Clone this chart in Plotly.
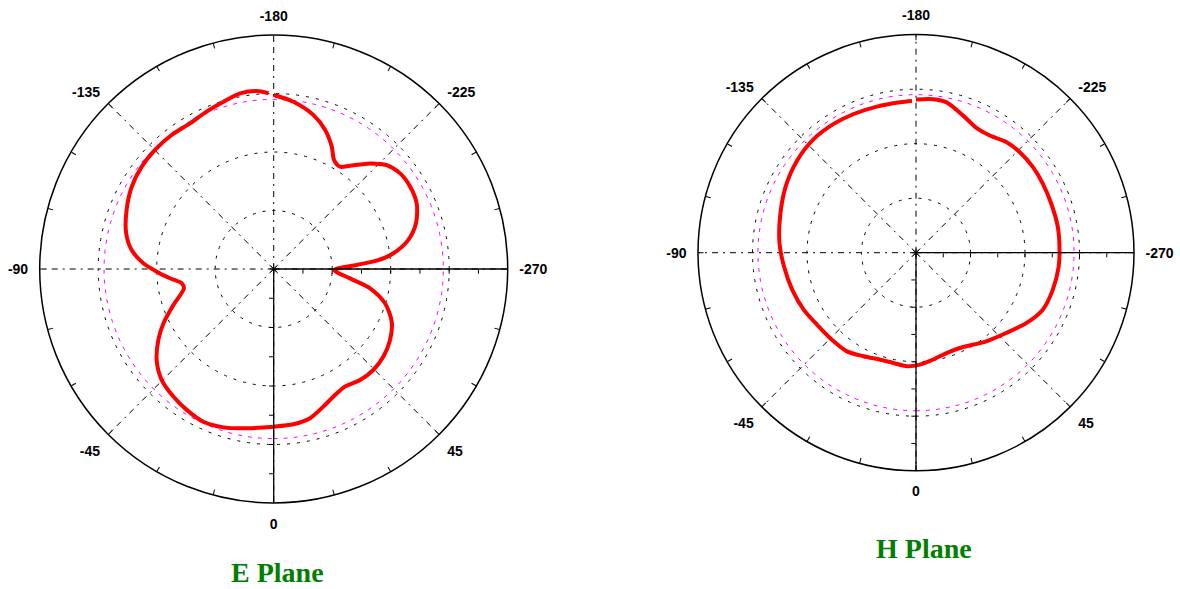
import plotly.graph_objects as go

# ---------------- data (radial units: outer ring = 8) ----------------
E_ANGLE = [180, 173.3, 165.6, 159.7, 154.6, 151.0, 147.0, 143.6, 137.6, 132.6,
           127.1, 121.1, 114.7, 107.8, 102.2, 97.5, 94.6, 92.8, 89.0, 83.0,
           78.7, 72.9, 65.95, 58.6, 51.4, 44.6, 37.9, 31.2, 25.95, 19.8,
           13.7, 7.2, 0, -9.6, -17.6, -24.7, -31.7, -38.2, -45.3, -52.1,
           -58.4, -63.8, -70.3, -77.8, -81.1, -84.9, -88.7, -92.5, -97.6, -103.6,
           -111.9, -120.1, -127.8, -135.1, -142.7, -150.1, -156.9, -163.3, -169.2, -174.5,
           -178.3]
E_GAIN = [5.95, 5.76, 5.44, 5.07, 4.63, 4.26, 4.17, 4.39, 4.89, 5.25,
          5.42, 5.45, 5.38, 5.11, 4.71, 4.13, 3.53, 2.84, 2.07, 2.63,
          3.36, 3.98, 4.42, 4.66, 4.80, 4.85, 4.81, 4.70, 4.79, 5.00,
          5.25, 5.35, 5.39, 5.52, 5.68, 5.75, 5.66, 5.55, 5.39, 5.07,
          4.63, 4.20, 3.64, 3.14, 3.18, 3.56, 4.00, 4.46, 4.90, 5.19,
          5.42, 5.61, 5.71, 5.75, 5.76, 5.74, 5.85, 5.97, 6.11, 6.11,
          6.01]

H_ANGLE = [180, 173.6, 168.5, 161.0, 154.2, 147.8, 140.8, 134.2, 126.2, 118.6,
           110.0, 100.4, 92.4, 84.4, 74.8, 65.8, 57.4, 48.3, 38.4, 24.7,
           16.9, 9.2, 2.0, -4.7, -11.6, -18.5, -26.9, -35.0, -42.9, -53.9,
           -63.0, -73.3, -84.0, -93.9, -104.8, -116.7, -127.8, -138.1, -147.4, -155.8,
           -165.0, -174.0, -178.5]
H_GAIN = [5.62, 5.67, 5.63, 5.32, 5.09, 5.08, 5.24, 5.30, 5.32, 5.30,
          5.28, 5.29, 5.27, 5.26, 5.20, 5.10, 4.80, 4.43, 4.15, 3.85,
          3.85, 3.97, 4.11, 4.18, 4.13, 4.14, 4.26, 4.42, 4.44, 4.49,
          4.62, 4.74, 4.87, 5.02, 5.16, 5.36, 5.52, 5.61, 5.61, 5.58,
          5.55, 5.55, 5.57]

ANGLE_TICKS = [0, 45, 90, 135, 180, 225, 270, 315]
ANGLE_LABELS = ["0", "45", "-270", "-225", "-180", "-135", "-90", "-45"]
RING_LEVELS = [2, 4, 6]
RADIAL_TICKS = [1, 2, 3, 4, 5, 6, 7]
MAGENTA_LEVEL = 5.8
R_MAX = 8
TITLES = ["E Plane", "H Plane"]

W, H = 1180, 589
# chart placement (pixels): centre x, centre y, radius
CHARTS = [(273.7, 269.0, 234.0), (916.0, 252.7, 218.0)]
TITLE_POS = [(277.5, 572.0), (924.0, 548.0)]

fig = go.Figure()

def domain(cx, cy, R):
    return dict(x=[(cx - R) / W, (cx + R) / W],
                y=[(H - cy - R) / H, (H - cy + R) / H])

layout_upd = {}
annotations = []
for i, ((cx, cy, R), angs, gains) in enumerate(zip(CHARTS, [E_ANGLE, H_ANGLE], [E_GAIN, H_GAIN])):
    base = 3 * i
    names = [f"polar{'' if base + k == 0 else base + k + 1}" for k in range(3)]
    refs = names
    dom = domain(cx, cy, R)

    # main polar: grid, outer ring, labels, curve
    layout_upd[names[0]] = dict(
        domain=dom, bgcolor="rgba(0,0,0,0)",
        radialaxis=dict(range=[0, R_MAX], tickmode="array", tickvals=RING_LEVELS,
                        showticklabels=False, ticks="", showline=False,
                        showgrid=True, gridcolor="black", gridwidth=1, griddash="3px,7px"),
        angularaxis=dict(rotation=270, direction="counterclockwise",
                         tickmode="array", tickvals=ANGLE_TICKS, ticktext=ANGLE_LABELS,
                         ticks="outside", ticklen=8, tickcolor="rgba(0,0,0,0)",
                         tickfont=dict(family="Liberation Sans", size=14, color="black", weight="bold"),
                         showline=True, linecolor="black", linewidth=1.5,
                         showgrid=True, gridcolor="black", gridwidth=1, griddash="6px,5px,2px,5px"),
    )
    # overlay: solid downward radial axis + outer ring ticks every 15 deg
    layout_upd[names[1]] = dict(
        domain=dom, bgcolor="rgba(0,0,0,0)",
        radialaxis=dict(range=[0, R_MAX], angle=270, tickmode="array", tickvals=RADIAL_TICKS,
                        showticklabels=False, ticks="outside", ticklen=4, tickcolor="black",
                        showline=True, linecolor="black", linewidth=1.3, showgrid=False),
        angularaxis=dict(rotation=270, direction="counterclockwise",
                         tickmode="array", tickvals=list(range(0, 360, 15)),
                         showticklabels=False, ticks="inside", ticklen=5, tickcolor="black",
                         showline=False, showgrid=False),
    )
    # overlay: solid rightward radial axis
    layout_upd[names[2]] = dict(
        domain=dom, bgcolor="rgba(0,0,0,0)",
        radialaxis=dict(range=[0, R_MAX], angle=0, tickmode="array", tickvals=RADIAL_TICKS,
                        showticklabels=False, ticks="outside", ticklen=4, tickcolor="black",
                        showline=True, linecolor="black", linewidth=1.3, showgrid=False),
        angularaxis=dict(rotation=270, direction="counterclockwise",
                         showticklabels=False, ticks="", showline=False, showgrid=False),
    )

    # magenta reference ring
    ring_theta = list(range(0, 361, 2))
    fig.add_trace(go.Scatterpolar(r=[MAGENTA_LEVEL] * len(ring_theta), theta=ring_theta,
                                  mode="lines", line=dict(color="#ff00ff", width=1, dash="4px,6px"),
                                  subplot=refs[0], showlegend=False, hoverinfo="skip"))
    # pattern
    fig.add_trace(go.Scatterpolar(r=gains, theta=angs, mode="lines",
                                  line=dict(color="#ff0000", width=4, shape="spline", smoothing=0.8),
                                  subplot=refs[0], showlegend=False))
    # centre mark
    fig.add_trace(go.Scatterpolar(r=[0], theta=[0], mode="markers",
                                  marker=dict(symbol="asterisk-open", size=7, color="black",
                                              line=dict(width=1, color="black")),
                                  subplot=refs[1], showlegend=False, hoverinfo="skip"))
    fig.add_trace(go.Scatterpolar(r=[0], theta=[0], mode="markers",
                                  marker=dict(size=1, color="rgba(0,0,0,0)"),
                                  subplot=refs[2], showlegend=False, hoverinfo="skip"))

    tx, ty = TITLE_POS[i]
    annotations.append(dict(text=TITLES[i], x=tx / W, y=1 - ty / H, xref="paper", yref="paper",
                            xanchor="center", yanchor="middle", showarrow=False,
                            font=dict(family="Liberation Serif", size=28, color="#008000", weight="bold")))

fig.update_layout(**layout_upd)
fig.update_layout(width=W, height=H, autosize=False, margin=dict(l=0, r=0, t=0, b=0),
                  paper_bgcolor="white", plot_bgcolor="white", annotations=annotations,
                  showlegend=False)

fig.write_html("out.html", config={"displayModeBar": False},
               post_script="document.body.style.margin='0';")
